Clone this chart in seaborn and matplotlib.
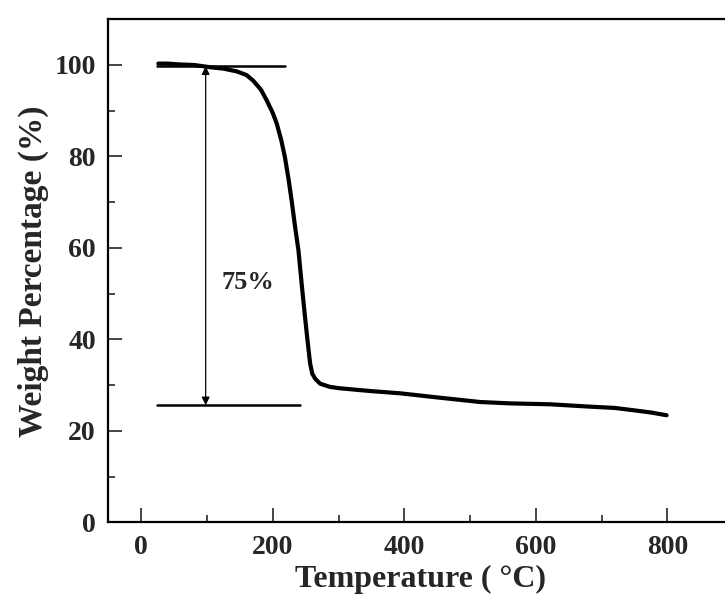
import matplotlib
matplotlib.use("Agg")
import matplotlib.pyplot as plt
from matplotlib.ticker import MultipleLocator
import seaborn as sns
import pandas as pd

# ---- data ----
temperature = [26, 40, 60, 80, 105, 125, 145, 160, 170, 182, 191, 200, 206, 213,
               218.5, 224, 229, 234, 239, 244, 249, 253, 256.7, 260, 264.4, 272,
               287, 302, 348, 393.6, 450, 515, 560, 621.6, 680, 720, 748, 775, 798.6]
weight = [100.3, 100.3, 100.1, 100.0, 99.5, 99.2, 98.6, 97.8, 96.6, 94.6, 92.2, 89.5,
          87.2, 83.5, 79.8, 75.0, 70.0, 64.5, 59.5, 52.0, 44.9, 39.5, 34.8, 32.5,
          31.4, 30.3, 29.6, 29.3, 28.7, 28.2, 27.3, 26.3, 26.0, 25.8, 25.3, 25.0,
          24.5, 24.0, 23.4]

upper_level = 99.7
lower_level = 25.6
upper_span = [24, 218]
lower_span = [24, 242]
arrow_x = 98
loss_label = "75%"
label_pos = [163, 52.5]

x_ticks = [0, 200, 400, 600, 800]
y_ticks = [0, 20, 40, 60, 80, 100]
x_label = "Temperature ( °C)"
y_label = "Weight Percentage (%)"

df = pd.DataFrame({"Temperature": temperature, "Weight": weight})

sns.set_theme(style="ticks")
plt.rcParams["font.family"] = ["Liberation Serif", "DejaVu Serif"]
plt.rcParams["font.weight"] = "bold"

fig = plt.figure(figsize=(7.25, 6.01), dpi=100)
ax = fig.add_axes([0.1494, 0.131, 0.862, 0.837])

sns.lineplot(data=df, x="Temperature", y="Weight", ax=ax, color="black",
             linewidth=3.0, sort=False, estimator=None)

ax.plot(upper_span, [upper_level, upper_level], color="black", linewidth=1.8)
ax.plot(lower_span, [lower_level, lower_level], color="black", linewidth=1.8)
ax.annotate("", xy=(arrow_x, lower_level), xytext=(arrow_x, upper_level),
            arrowprops=dict(arrowstyle="<|-|>", color="black", lw=0.9,
                            mutation_scale=12, shrinkA=0, shrinkB=0))
ax.text(label_pos[0], label_pos[1], loss_label, ha="center", va="center",
        fontsize=19, fontweight="bold")

ax.set_xlim(-50, 900)
ax.set_ylim(0, 110)
ax.set_xticks(x_ticks)
ax.set_yticks(y_ticks)
ax.xaxis.set_minor_locator(MultipleLocator(100))
ax.yaxis.set_minor_locator(MultipleLocator(10))
ax.tick_params(which="major", direction="in", length=10, width=1.2,
               labelsize=20, pad=9)
ax.tick_params(which="minor", direction="in", length=5, width=1.2)
for lab in ax.get_xticklabels() + ax.get_yticklabels():
    lab.set_fontweight("bold")

ax.set_xlabel(x_label, fontsize=23, fontweight="bold", labelpad=4)
ax.set_ylabel(y_label, fontsize=24, fontweight="bold", labelpad=4)

for s in ax.spines.values():
    s.set_linewidth(1.6)
    s.set_color("black")

fig.savefig("out.png", dpi=100)
